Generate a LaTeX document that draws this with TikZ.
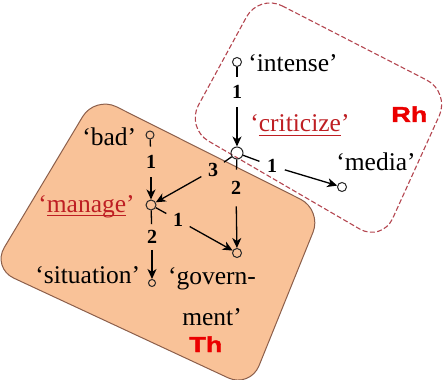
\documentclass[tikz,border=0pt]{standalone}
\usepackage{graphicx}
\usepackage{fontspec}
\setmainfont{Liberation Serif}
\newfontfamily\hdfont{Liberation Sans}[BoldFeatures={FakeBold=1.6}]
\usetikzlibrary{arrows.meta,calc}
\definecolor{thfill}{RGB}{249,194,152}
\definecolor{thdraw}{RGB}{140,95,75}
\definecolor{rhdraw}{RGB}{180,70,80}
\definecolor{wordred}{RGB}{190,30,35}
\definecolor{tagred}{RGB}{235,0,0}
\newcommand{\myul}[1]{\setbox0\hbox{#1}\rlap{\rule[-2.2pt]{\wd0}{0.7pt}}\box0}
\begin{document}
\begin{tikzpicture}[x=0.5pt,y=-0.5pt,
  word/.style={inner sep=0pt, anchor=base west, font=\fontsize{12.75}{15}\selectfont},
  redword/.style={word, text=wordred},
  tag/.style={inner sep=0pt, anchor=base west, text=tagred, font=\hdfont\bfseries\fontsize{10.8}{12}\selectfont},
  dot/.style={circle, draw=black!85, line width=0.5pt, inner sep=0pt, minimum size=#1},
  num/.style={circle, inner sep=0pt, minimum size=#1, font=\bfseries\fontsize{10}{12}\selectfont},
  num/.default=13pt,
  conn/.style={line width=0.65pt, black},
  arr/.style={conn, -{Stealth[length=5pt, width=4.5pt, inset=1.5pt]}}
]
\useasboundingbox (0,0) rectangle (443,379);

% Th region
\draw[fill=thfill, draw=thdraw, line width=0.5pt, rounded corners=12pt]
  (95,96) -- (322,210) -- (250,388) -- (-8,268) -- cycle;
% Rh region
\draw[fill=white, draw=rhdraw, line width=0.55pt, dash pattern=on 2.5pt off 1.2pt, rounded corners=13pt]
  (259,-6) -- (450,92) -- (382,242) -- (186,128) -- cycle;

% dependency nodes
\node[dot=4.5pt] (intense) at (237,62) {};
\node[dot=6pt]   (crit)    at (237,153) {};
\node[dot=4.5pt] (media)   at (342,187) {};
\node[dot=4pt]   (bad)     at (150,135) {};
\node[dot=5pt]   (manage)  at (151,205) {};
\node[dot=4.5pt] (gov)     at (237,253) {};
\node[dot=3.5pt] (sit)     at (152,283) {};

% edge labels
\node[num=15pt] (n1) at (237,92)  {1};
\node[num]      (n2) at (272,166) {1};
\node[num]      (n3) at (213,170) {3};
\node[num=18pt] (n4) at (236,188) {2};
\node[num=15pt] (n5) at (151,162) {1};
\node[num]      (n6) at (178,220) {1};
\node[num=12.5pt] (n7) at (152,237) {2};

% connectors
\draw[conn] (intense) -- (n1); \draw[arr] (n1) -- (crit);
\draw[conn] (crit) -- (n2);    \draw[arr] (n2) -- (media);
\draw[conn] (crit) -- (n3);    \draw[arr] (n3) -- (manage);
\draw[conn] (crit) -- (n4);    \draw[arr] (n4) -- (gov);
\draw[conn] (bad) -- (n5);     \draw[arr] (n5) -- (manage);
\draw[conn] (manage) -- (n6);  \draw[arr] (n6) -- (gov);
\draw[conn] (manage) -- (n7);  \draw[arr] (n7) -- (sit);

% texts
\node[word]    (tintense) at (248,72)  {‘intense’};
\node[redword] (tcrit)    at (250,132) {‘\myul{criticize}’};
\node[word]    (tmedia)   at (336,170) {‘media’};
\node[tag]     (trh)      at (391,122) {\scalebox{1.25}[1]{Rh}};
\node[word]    (tbad)     at (82,146)  {‘bad’};
\node[redword] (tmanage)  at (38,212)  {‘\myul{manage}’};
\node[word]    (tsit)     at (35,283)  {‘situation’};
\node[word, anchor=base] (tgov1) at (212,284) {‘govern-};
\node[word, anchor=base] (tgov2) at (212,325) {ment’};
\node[tag]     (tth)      at (189,352) {\scalebox{1.25}[1]{Th}};
\end{tikzpicture}
\end{document}
